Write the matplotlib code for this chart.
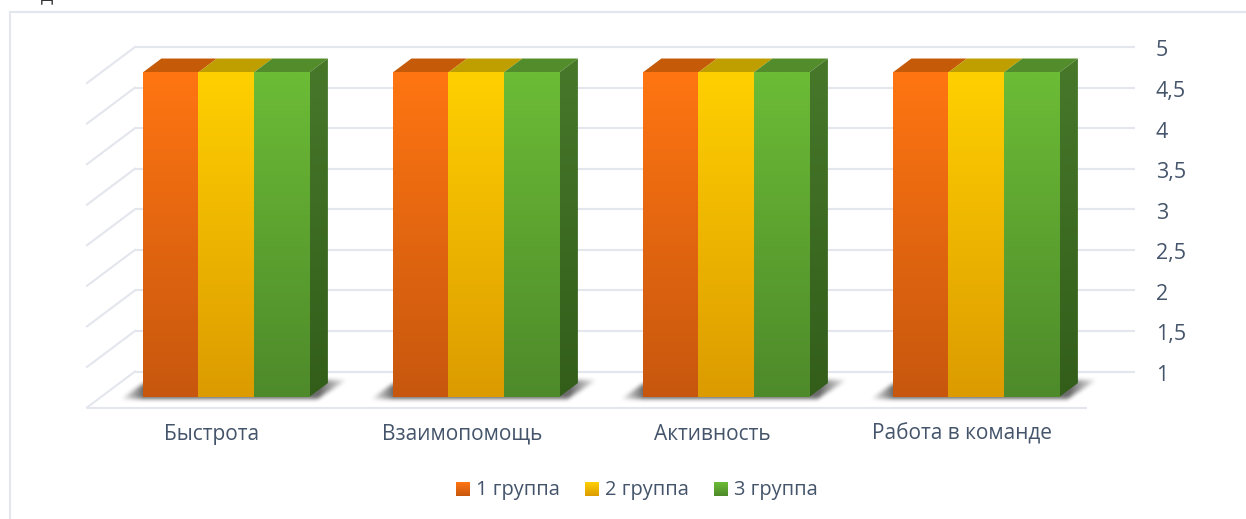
import numpy as np
import matplotlib
matplotlib.use('Agg')
import matplotlib.pyplot as plt
from matplotlib.colors import LinearSegmentedColormap
from matplotlib.patches import Polygon, Rectangle
from matplotlib.path import Path
from matplotlib.transforms import Affine2D

plt.rcParams['font.family'] = ['Open Sans', 'DejaVu Sans']

categories = ['Быстрота', 'Взаимопомощь', 'Активность', 'Работа в команде']
group_names = ['1 группа', '2 группа', '3 группа']
group_1 = [5, 5, 5, 5]
group_2 = [5, 5, 5, 5]
group_3 = [5, 5, 5, 5]
y_ticks = [1, 1.5, 2, 2.5, 3, 3.5, 4, 4.5, 5]
y_tick_labels = ['1', '1,5', '2', '2,5', '3', '3,5', '4', '4,5', '5']

# front face top/bottom, top face
orange = ('#FF7512', '#C7570E', '#C55A08')
yellow = ('#FFD000', '#DC9B00', '#BF9E00')
green = ('#6CBC36', '#4E8A2A', '#528C2B')
side_top, side_bottom = '#47782A', '#325E1A'
text_color = '#44546A'
grid_color = '#E3E6ED'

W, H = 1246, 519
fig = plt.figure(figsize=(W / 100, H / 100), dpi=100)
# the axes is the back wall of the 3d box
ax = fig.add_axes([135 / W, (H - 371.5) / H, 1000 / W, 324.5 / H])
x_min, x_max, y_min, y_max = -0.5, 3.5, 1, 5

# depth: 0 = back wall, 1 = front of the floor
PX_X = 250.0
PX_Y = 81.125
DEPTH_X = 48 / PX_X
DEPTH_Y = 36 / PX_Y
BAR_W = 55.5 / PX_X
D_FRONT = 0.708
D_BACK = 0.32


def proj(x, v, d):
    return x - d * DEPTH_X, v - d * DEPTH_Y


def gradient(c1, c2, extent, clip, zorder):
    cmap = LinearSegmentedColormap.from_list('g', [c1, c2])
    arr = np.linspace(0, 1, 256).reshape(-1, 1)
    im = ax.imshow(arr, cmap=cmap, extent=extent, aspect='auto', origin='upper',
                   zorder=zorder, interpolation='bilinear')
    clip.set_transform(ax.transData)
    im.set_clip_path(clip)
    if not isinstance(clip, Rectangle):
        im.set_clip_box(fig.bbox)
    return im


def poly(points, **kw):
    p = Polygon(points, closed=True, linewidth=0, clip_on=False, **kw)
    ax.add_patch(p)
    return p


def shadow_image():
    # soft floor shadow, in pixels measured from the front left corner of the group
    span = 3 * 55.5
    gx, gy = np.meshgrid(np.arange(-30, span + 50), np.arange(-26, 8))
    outline = Path([(-23, 1), (span + 8, 1), (span + 38, -18), (span + 18, -18), (0, -14)])
    pts = np.column_stack([gx.ravel(), gy.ravel()])
    mask = outline.contains_points(pts).reshape(gx.shape).astype(float)
    kernel = np.ones(5) / 5
    for _ in range(2):
        mask = np.apply_along_axis(lambda r: np.convolve(r, kernel, mode='same'), 1, mask)
        mask = np.apply_along_axis(lambda c: np.convolve(c, kernel, mode='same'), 0, mask)
    fade = np.clip((gx + 26) / 26, 0, 1) * np.clip((span + 42 - gx) / 32, 0, 1)
    rgba = np.zeros(gx.shape + (4,))
    rgba[..., :3] = 0.36
    rgba[..., 3] = mask * fade ** 1.2 * 0.9
    return rgba


# gridlines on the wall, with the slanted part on the left side
for t in y_ticks:
    ax.plot([x_min, x_max], [t, t], color=grid_color, lw=1.5, zorder=1, clip_on=False,
            solid_capstyle='butt')
    xf, yf = proj(x_min, t, 1)
    ax.plot([x_min, xf], [t, yf], color=grid_color, lw=1.5, zorder=1, clip_on=False)

# floor front edge
x0, y0 = proj(x_min, y_min, 1)
x1, y1 = proj(x_max, y_min, 1)
ax.plot([x0, x1], [y0, y1], color=grid_color, lw=1.5, zorder=1, clip_on=False,
        solid_capstyle='butt')

series = [group_1, group_2, group_3]
styles = [orange, yellow, green]
shadow = shadow_image()

for i in range(len(categories)):
    left = i - 1.5 * BAR_W
    right = i + 1.5 * BAR_W

    # shadow on the floor
    cx, cy = proj(left, y_min, D_FRONT)
    ext = (cx - 30 / PX_X, cx + (3 * 55.5 + 50) / PX_X, cy - 8 / PX_Y, cy + 26 / PX_Y)
    im = ax.imshow(shadow, extent=ext, origin='upper', aspect='auto', zorder=2,
                   interpolation='bilinear', clip_on=False)

    for j, (vals, st) in enumerate(zip(series, styles)):
        v = vals[i]
        xl = left + j * BAR_W
        xr = xl + BAR_W
        fx, fy = proj(xl, v, D_FRONT)
        fx2, fy0 = proj(xr, y_min, D_FRONT)
        bx, by = proj(xl, v, D_BACK)
        bx2, _ = proj(xr, v, D_BACK)

        # top face
        poly([(fx, fy), (fx2, fy), (bx2, by), (bx, by)], facecolor=st[2], zorder=3 + j)
        # front face
        ax.bar(fx + BAR_W / 2, fy - fy0, bottom=fy0, width=BAR_W, color=st[0],
               linewidth=0, zorder=6, clip_on=False)
        clip = Rectangle((fx, fy0), BAR_W, fy - fy0)
        gradient(st[0], st[1], (fx, fx + BAR_W, fy0, fy), clip, 7)

    # right side of the last bar
    v = series[-1][i]
    a = proj(right, v, D_FRONT)
    b = proj(right, v, D_BACK)
    c = proj(right, y_min, D_BACK)
    d = proj(right, y_min, D_FRONT)
    side = Polygon([a, b, c, d], closed=True)
    gradient(side_top, side_bottom, (a[0], b[0], d[1], b[1]), side, 6)

ax.set_xlim(x_min, x_max)
ax.set_ylim(y_min, y_max)
ax.set_facecolor('none')
for s in ax.spines.values():
    s.set_visible(False)

ax.yaxis.tick_right()
ax.set_yticks(y_ticks)
ax.set_yticklabels(y_tick_labels, fontsize=15.5, color=text_color)
ax.tick_params(axis='y', length=0, pad=15)
ax.set_xticks(range(len(categories)))
ax.set_xticklabels(categories, fontsize=15, color=text_color)
ax.tick_params(axis='x', length=0, pad=37.5)
# labels sit under the front edge of the floor
offset = Affine2D().translate(-48, 0)
for lab in ax.get_xticklabels():
    lab.set_transform(lab.get_transform() + offset)
offset_y = Affine2D().translate(0, -1.5)
for lab in ax.get_yticklabels():
    lab.set_transform(lab.get_transform() + offset_y)

# legend swatches with the same gradient
legend_x = [456, 585, 714]
legend_text_x = [476, 605, 734]
for lx, tx, name, st in zip(legend_x, legend_text_x, group_names, styles):
    sw = fig.add_axes([lx / W, (H - 496) / H, 14 / W, 14 / H])
    sw.imshow(np.linspace(0, 1, 64).reshape(-1, 1), aspect='auto',
              cmap=LinearSegmentedColormap.from_list('g', [st[0], st[1]]))
    sw.axis('off')
    fig.text(tx / W, (H - 490) / H, name, fontsize=14.4, color=text_color, va='center', ha='left')

# chart frame, only top and left are in the crop
fig.add_artist(plt.Line2D([9.5 / W, 9.5 / W], [0, (H - 12) / H], color=grid_color, lw=1.5))
fig.add_artist(plt.Line2D([9.5 / W, 1], [(H - 12) / H, (H - 12) / H], color=grid_color, lw=1.5))
# cut off heading above the chart
fig.text(47 / W, 1.0, 'Д', fontsize=13, color='#333333', ha='center', va='baseline')

fig.savefig('out.png', dpi=100)
